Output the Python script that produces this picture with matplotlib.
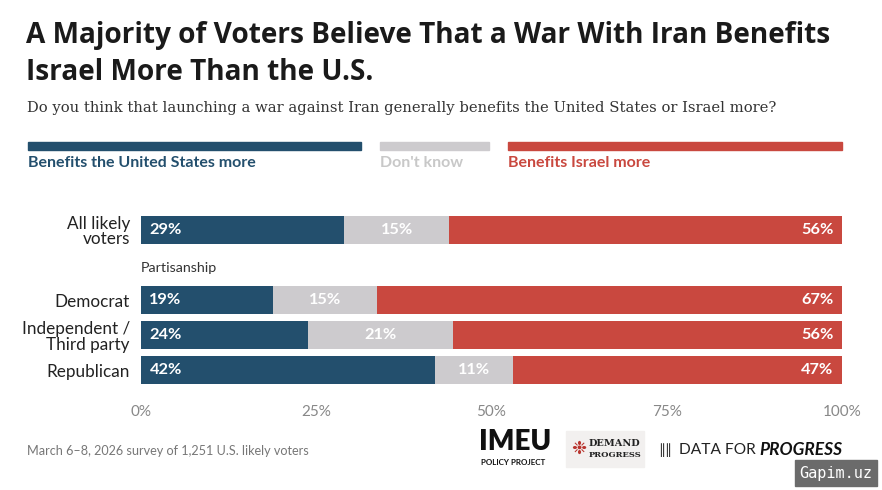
import matplotlib.pyplot as plt
from matplotlib.patches import Rectangle

plt.rcParams["font.family"] = ["Lato", "DejaVu Sans"]

rows = ["All likely\nvoters", "Democrat", "Independent /\nThird party", "Republican"]
us_more = [29, 19, 24, 42]
dont_know = [15, 15, 21, 11]
israel_more = [56, 67, 56, 47]
series_names = ["Benefits the United States more", "Don't know", "Benefits Israel more"]
xtick_labels = ["0%", "25%", "50%", "75%", "100%"]

BLUE = "#234f6d"
GRAY = "#cdcbce"
RED = "#c9483f"
colors = [BLUE, GRAY, RED]
ypos = [0, 2, 3, 4]

fig = plt.figure(figsize=(8.82, 4.90), dpi=100)
W, H = 882, 490


def fx(px):
    return px / W


def fy(py):
    return 1 - py / H


# title / subtitle
title_font = ["Open Sans", "DejaVu Sans"]
fig.text(fx(26), fy(35), "A Majority of Voters Believe That a War With Iran Benefits",
         fontsize=20.2, fontweight="bold", color="#1a1a1a", va="center", family=title_font)
fig.text(fx(26), fy(73), "Israel More Than the U.S.",
         fontsize=20.2, fontweight="bold", color="#1a1a1a", va="center", family=title_font)
fig.text(fx(27), fy(108),
         "Do you think that launching a war against Iran generally benefits the United States or Israel more?",
         fontsize=10.6, family=["DejaVu Serif"], color="#333333", va="center")

# legend bars + labels
leg_spans = [(28, 361), (380, 489), (508, 842)]
for (x0, x1), c, name in zip(leg_spans, colors, series_names):
    fig.patches.append(Rectangle((fx(x0), fy(150)), fx(x1 - x0), 8 / H,
                                 transform=fig.transFigure, color=c))
    tc = "#c8c8c8" if c == GRAY else c
    fig.text(fx(x0), fy(163), name, fontsize=11.5, fontweight="bold", color=tc, va="center")

# bars
ax = fig.add_axes([fx(141), fy(391), fx(842 - 141), (391 - 209) / H])
for i, y in enumerate(ypos):
    raw = [us_more[i], dont_know[i], israel_more[i]]
    total = sum(raw)
    vals = [v * 100 / total for v in raw]
    left = 0
    for j, (v, r) in enumerate(zip(vals, raw)):
        ax.barh(y, v, left=left, height=0.8, color=colors[j], linewidth=0)
        if j == 0:
            x, ha = left + 1.2, "left"
        elif j == 1:
            x, ha = left + v / 2, "center"
        else:
            x, ha = left + v - 1.2, "right"
        ax.text(x, y, f"{r}%", color="white", fontsize=11.8, fontweight="bold",
                va="center", ha=ha)
        left += v

ax.text(0, 1.1, "Partisanship", fontsize=10.3, color="#333333", va="center", ha="left")

ax.set_xlim(0, 100)
ax.set_ylim(4.6, -0.6)
ax.set_yticks(ypos)
ax.set_yticklabels(rows, fontsize=12.3, color="#222222", linespacing=1.0)
ax.set_xticks([0, 25, 50, 75, 100])
ax.set_xticklabels(xtick_labels, fontsize=11, color="#888888")
ax.tick_params(axis="both", length=0)
ax.tick_params(axis="x", pad=10)
ax.tick_params(axis="y", pad=8)
for s in ax.spines.values():
    s.set_visible(False)

# footer
fig.text(fx(27), fy(451), "March 6\u20138, 2026 survey of 1,251 U.S. likely voters",
         fontsize=9.1, color="#777777", va="center")

# logos as text
fig.text(fx(479), fy(442), "IMEU", fontsize=20, fontweight="heavy", color="#111111", va="center")
fig.text(fx(481), fy(462), "POLICY PROJECT", fontsize=5.8, fontweight="bold", color="#111111", va="center")
fig.patches.append(Rectangle((fx(566), fy(467)), fx(78), 36 / H,
                             transform=fig.transFigure, color="#f2f0ef"))
fig.text(fx(571), fy(449), "\u2749", fontsize=13, color="#b8342e", va="center",
         family=["DejaVu Sans"])
fig.text(fx(589), fy(443), "DEMAND", fontsize=7, fontweight="bold", color="#222222",
         va="center", family=["DejaVu Serif"])
fig.text(fx(589), fy(455), "PROGRESS", fontsize=6, fontweight="bold", color="#222222",
         va="center", family=["DejaVu Serif"])
fig.text(fx(658), fy(450), "\u2225\u2225", fontsize=10, color="#333333", va="center",
         family=["DejaVu Sans"])
fig.text(fx(679), fy(450), "DATA FOR", fontsize=11.2, color="#222222", va="center")
fig.text(fx(842), fy(450), "PROGRESS", fontsize=12.5, fontweight="bold", style="italic",
         color="#111111", va="center", ha="right")

# watermark
fig.patches.append(Rectangle((fx(795), fy(486)), fx(82), 26 / H,
                             transform=fig.transFigure, color="#6b6b6b"))
fig.text(fx(836), fy(473), "Gapim.uz", fontsize=11, color="white", va="center", ha="center",
         family=["DejaVu Sans Mono"])

fig.savefig("out.png", dpi=100)
